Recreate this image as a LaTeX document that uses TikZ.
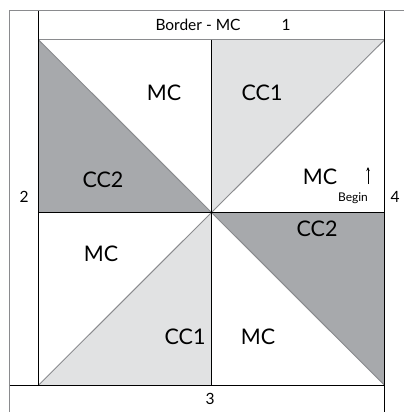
\documentclass[tikz,border=0pt]{standalone}
\usepackage{fontspec}
\setmainfont{Lato}
\usetikzlibrary{arrows.meta}
\definecolor{cDark}{HTML}{A7A9AC}
\definecolor{cLight}{HTML}{E1E2E3}
\definecolor{cEdge}{HTML}{8A8B8E}

\begin{document}
\begin{tikzpicture}[x=1pt, y=-1pt,
    patch/.style={font=\fontsize{21.5}{21.5}\selectfont, inner sep=0pt},
    strip/.style={font=\fontsize{15.5}{15.5}\selectfont, inner sep=0pt},
    small/.style={font=\fontsize{12}{12}\selectfont, inner sep=0pt},
    seam/.style={draw=black, line width=1pt},
    fold/.style={draw=cEdge, line width=1pt},
    arr/.style={-{Stealth[length=4pt,width=3.5pt]}, line width=0.8pt}
]
\useasboundingbox (0,0) rectangle (404,412);
% block
\coordinate (tl) at (38.7,40);  \coordinate (tm) at (211.5,40);  \coordinate (tr) at (384.3,40);
\coordinate (ml) at (38.7,212.5); \coordinate (o) at (211.5,212.5); \coordinate (mr) at (384.3,212.5);
\coordinate (bl) at (38.7,385); \coordinate (bm) at (211.5,385); \coordinate (br) at (384.3,385);
% border
\coordinate (ot) at (9.5,11); \coordinate (ob) at (9.5,412); \coordinate (oe) at (404,11);
\coordinate (it) at (38.7,11); \coordinate (rt) at (384.3,11); \coordinate (rb) at (384.3,412);
\coordinate (lb) at (9.5,385);

\fill[cDark] (tl) -- (ml) -- (o) -- cycle;
\fill[cLight] (tm) -- (tr) -- (o) -- cycle;
\fill[cDark] (o) -- (mr) -- (br) -- cycle;
\fill[cLight] (o) -- (bm) -- (bl) -- cycle;

\draw[fold] (ob) -- (ot) -- (oe);
\draw[fold] (tl) -- (tr);
\draw[fold] (tl) -- (br);
\draw[fold] (tr) -- (bl);
\draw[seam] (it) -- (bl);
\draw[seam] (rt) -- (rb);
\draw[seam] (lb) -- (br);
\draw[seam] (tm) -- (bm);
\draw[seam] (ml) -- (mr);

\node[strip] (b1) at (198,25) {Border - MC};
\node[strip] (n1) at (286,25) {1};
\node[strip] (n2) at (24,197) {2};
\node[strip] (n3) at (210,399) {3};
\node[strip] (n4) at (395,197) {4};

\node[patch] (p1) at (164,93) {MC};
\node[patch] (p2) at (262,93) {CC1};
\node[patch] (p3) at (103,180) {CC2};
\node[patch] (p4) at (320,177) {MC};
\node[patch] (p5) at (317,229) {CC2};
\node[patch] (p6) at (101,254) {MC};
\node[patch] (p7) at (185,337) {CC1};
\node[patch] (p8) at (258,337) {MC};

\node[small] (go) at (353,198) {Begin};
\coordinate (g0) at (368,184);
\coordinate (g1) at (368,167);
\draw[arr] (g0) -- (g1);
\end{tikzpicture}
\end{document}
